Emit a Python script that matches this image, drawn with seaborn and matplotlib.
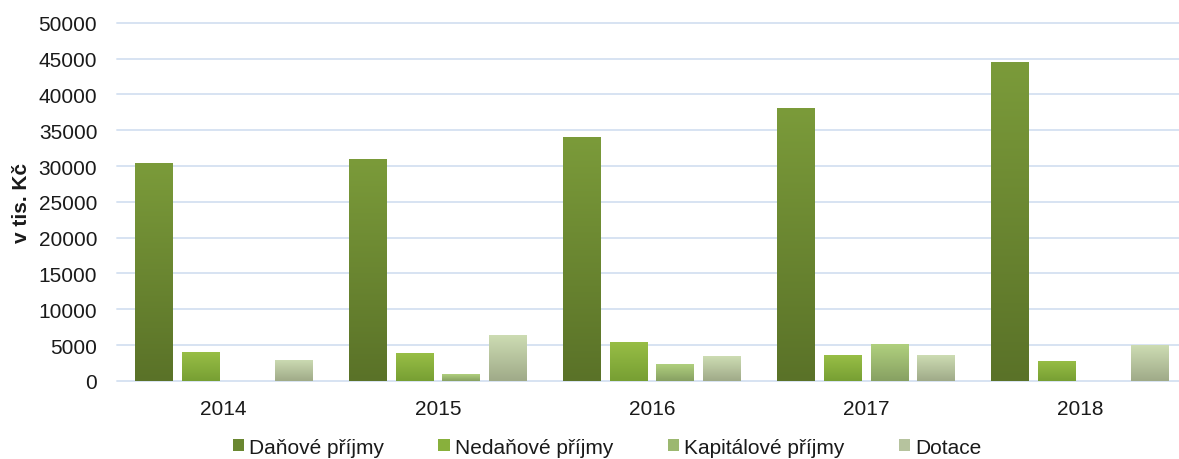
import numpy as np
import pandas as pd
import seaborn as sns
import matplotlib.pyplot as plt
from matplotlib.colors import LinearSegmentedColormap, to_hex
from matplotlib.patches import Patch

years = ['2014', '2015', '2016', '2017', '2018']
series = ['Daňové příjmy', 'Nedaňové příjmy', 'Kapitálové příjmy', 'Dotace']
danove = [30400, 31000, 34000, 38100, 44500]
nedanove = [4050, 3900, 5450, 3600, 2800]
kapitalove = [0, 950, 2350, 5100, 0]
dotace = [2950, 6400, 3450, 3550, 5000]

# gradient colours per series (top, bottom)
top_cols = ['#7b9b3a', '#98be46', '#b0d07e', '#cddcb3']
bot_cols = ['#5a7228', '#779f33', '#87a062', '#9faa88']
mid_cols = ['#6a8731', '#88b03c', '#9cb870', '#b6c39e']

df = pd.DataFrame({'Rok': years * 4,
                   'Druh': np.repeat(series, len(years)),
                   'Hodnota': danove + nedanove + kapitalove + dotace})

sns.set_theme(style='white')
plt.rcParams['font.family'] = ['Liberation Sans', 'DejaVu Sans']

fig, ax = plt.subplots(figsize=(11.79, 4.6), dpi=100)
fig.subplots_adjust(left=0.099, right=1.0, bottom=0.17, top=0.948)

sns.barplot(data=df, x='Rok', y='Hodnota', hue='Druh', hue_order=series,
            palette=mid_cols, saturation=1, width=0.87, gap=0.2, ax=ax,
            legend=False, edgecolor='none', zorder=2)

# vertical gradient on each bar
for p in list(ax.patches):
    h = p.get_height()
    if h <= 0:
        continue
    i = mid_cols.index(to_hex(p.get_facecolor()))
    cmap = LinearSegmentedColormap.from_list('g', [bot_cols[i], top_cols[i]])
    x0 = p.get_x()
    w = p.get_width()
    im = ax.imshow(np.linspace(0, 1, 256).reshape(-1, 1), cmap=cmap,
                   origin='lower', aspect='auto', extent=[x0, x0 + w, 0, h],
                   zorder=3)
    im.set_clip_path(p)

ax.set_xlim(-0.5, 4.463)
ax.set_ylim(0, 50000)
ax.set_yticks(range(0, 50001, 5000))
ax.yaxis.grid(True, color='#d7e3f2', lw=1.4)
for gl in ax.get_ygridlines():
    gl.set_clip_on(False)
ax.set_axisbelow(True)
for s in ax.spines.values():
    s.set_visible(False)

fs = 15
ax.tick_params(axis='y', length=0, labelsize=fs, colors='#1a1a1a', pad=14)
ax.tick_params(axis='x', length=0, labelsize=fs, colors='#1a1a1a', pad=13)
ax.set_xlabel('')
ax.set_ylabel('v tis. Kč', fontsize=fs, fontweight='bold', color='#1a1a1a')
ax.yaxis.set_label_coords(-0.081, 0.5)

handles = [Patch(facecolor=mid_cols[i], edgecolor='none') for i in range(4)]
fig.legend(handles, series, loc='center', bbox_to_anchor=(0.515, 0.026),
           ncol=4, frameon=False, fontsize=fs, handlelength=0.55,
           handleheight=0.55, handletextpad=0.25, columnspacing=2.6,
           labelcolor='#1a1a1a')

plt.savefig('out.png', dpi=100)
